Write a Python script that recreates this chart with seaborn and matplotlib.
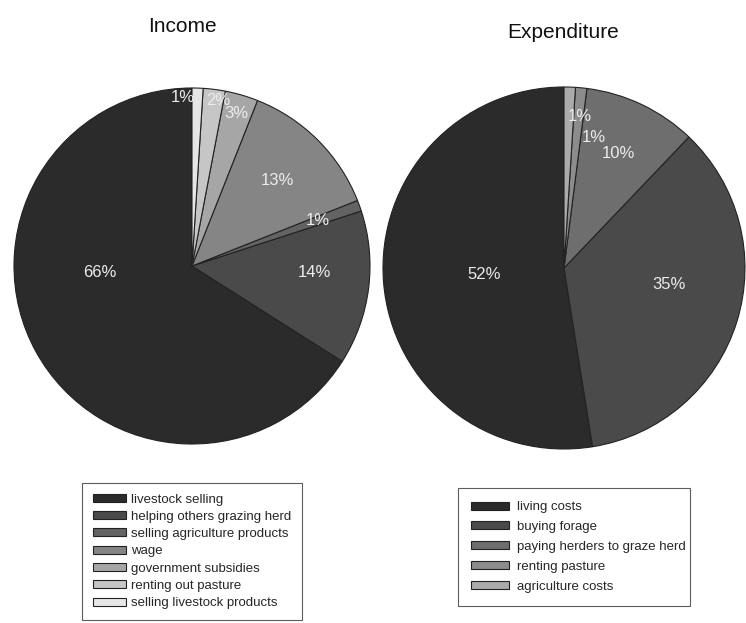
import numpy as np
import matplotlib
matplotlib.use("Agg")
import matplotlib.pyplot as plt
import seaborn as sns

# --- DATA ---
income_labels = ["livestock selling", "helping others grazing herd", "selling agriculture products",
                 "wage", "government subsidies", "renting out pasture", "selling livestock products"]
income_values = [66, 14, 1, 13, 3, 2, 1]
income_colors = ["#2b2b2b", "#4a4a4a", "#636363", "#858585", "#a6a6a6", "#c6c6c6", "#e6e6e6"]

exp_labels = ["living costs", "buying forage", "paying herders to graze herd",
              "renting pasture", "agriculture costs"]
exp_values = [52, 35, 10, 1, 1]
exp_colors = ["#2b2b2b", "#4a4a4a", "#6e6e6e", "#8c8c8c", "#ababab"]

# label placement (fraction of radius, optional angle override in degrees)
income_lbl_pos = [(0.52, 184), (0.69, -3), (0.75, None), (0.68, None), (0.89, None), (0.94, 81), (0.95, 93)]
exp_lbl_pos = [(0.44, None), (0.59, -9), (0.70, None), (0.74, 77), (0.84, 84)]

sns.set_theme(style="white")
plt.rcParams["font.family"] = ["Liberation Sans", "DejaVu Sans"]

fig = plt.figure(figsize=(7.46, 6.23), dpi=100)
W, H = 746, 623


def draw_pie(rect, values, colors, labels, lbl_pos, title, title_xy, legend_box, leg_kw):
    ax = fig.add_axes(rect)
    wedges, _, autotexts = ax.pie(values, colors=colors, startangle=90, counterclock=True,
                                  autopct="%d", textprops=dict(color="#ececec", fontsize=12),
                                  wedgeprops=dict(edgecolor="#222222", linewidth=0.8))
    for w, t, v, (r, ang) in zip(wedges, autotexts, values, lbl_pos):
        if ang is None:
            ang = (w.theta1 + w.theta2) / 2
        t.set_text(f"{v}%")
        t.set_position((r * np.cos(np.radians(ang)), r * np.sin(np.radians(ang))))
        t.set_ha("center")
        t.set_va("center")
    for w in wedges:
        w.set_clip_on(False)
    ax.set_xlim(-1, 1)
    ax.set_ylim(-1, 1)
    ax.set_aspect("equal")
    fig.text(title_xy[0], title_xy[1], title, ha="center", va="center", fontsize=15, color="#111111")
    # legend box: (left px, top px, width px)
    x0, top, w = legend_box
    leg = fig.legend(wedges, labels, loc="upper left",
                     bbox_to_anchor=(x0 / W, 1 - top / H - 0.01, w / W, 0.01), mode="expand",
                     fontsize=9.5, frameon=True, fancybox=False, edgecolor="#333333",
                     handleheight=0.55, borderaxespad=0, **leg_kw)
    leg.get_frame().set_linewidth(0.8)
    return ax


draw_pie([14 / W, 1 - 444 / H, 356 / W, 356 / H], income_values, income_colors, income_labels,
         income_lbl_pos, "Income", (182 / W, 1 - 27 / H), (82, 483, 220),
         dict(handlelength=2.5, handletextpad=0.4, labelspacing=0.4, borderpad=0.8))
draw_pie([383 / W, 1 - 449 / H, 362 / W, 362 / H], exp_values, exp_colors, exp_labels,
         exp_lbl_pos, "Expenditure", (563 / W, 1 - 32 / H), (458, 488, 232),
         dict(handlelength=2.9, handletextpad=0.6, labelspacing=0.6, borderpad=1.0))

plt.savefig("out.png", dpi=100)
